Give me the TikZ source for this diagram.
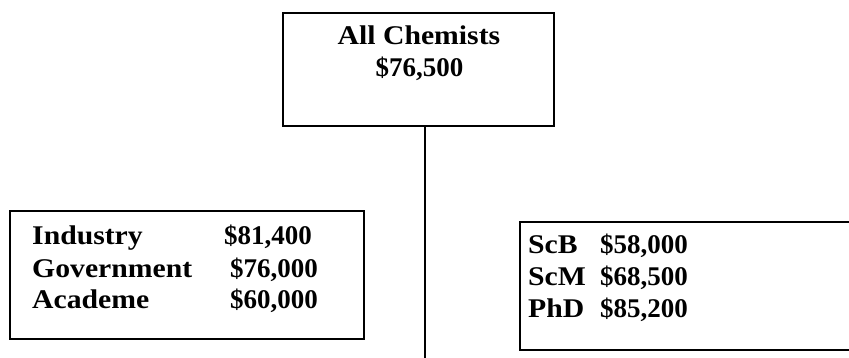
\documentclass[tikz,border=0pt]{standalone}
\usepackage{fontspec}
\newfontfamily\wordfont[FakeStretch=1.1]{Liberation Serif}
\newfontfamily\numfont{Liberation Serif}
\begin{document}
\begin{tikzpicture}[x=1pt,y=-1pt,
  box/.style={draw=black,line width=1.6pt,anchor=north west,inner sep=0pt},
  txt/.style={inner sep=0pt,anchor=base west,font=\fontsize{27}{32}\wordfont\bfseries},
  num/.style={inner sep=0pt,anchor=base west,font=\fontsize{27}{32}\numfont\bfseries},
  ctxt/.style={txt,anchor=base},
  cnum/.style={num,anchor=base},
  conn/.style={draw=black,line width=1.6pt}]
\useasboundingbox (0,0) rectangle (849,358);
\clip (0,0) rectangle (849,358);
% boxes
\node[box,minimum width=271pt,minimum height=113pt] (top) at (282,12) {};
\node[box,minimum width=354pt,minimum height=128pt] (left) at (9,210) {};
\node[box,minimum width=420pt,minimum height=128pt] (right) at (519,221) {};
% top texts
\node[ctxt] (t1) at (419,45) {All Chemists};
\node[cnum] (t2) at (419.5,77) {\$76,500};
% left texts
\node[txt] (l1) at (32,245) {Industry};
\node[num] (l1v) at (224,245) {\$81,400};
\node[txt] (l2) at (32,277) {Government};
\node[num] (l2v) at (230,277) {\$76,000};
\node[txt] (l3) at (32,308) {Academe};
\node[num] (l3v) at (230,308) {\$60,000};
% right texts
\node[txt] (r1) at (528,254) {ScB};
\node[num] (r1v) at (600,254) {\$58,000};
\node[txt] (r2) at (528,286) {ScM};
\node[num] (r2v) at (600,286) {\$68,500};
\node[txt] (r3) at (528,317) {PhD};
\node[num] (r3v) at (600,317) {\$85,200};
% connector
\coordinate (lineend) at (425,360);
\draw[conn] (top.south -| lineend) -- (lineend);
\end{tikzpicture}
\end{document}
